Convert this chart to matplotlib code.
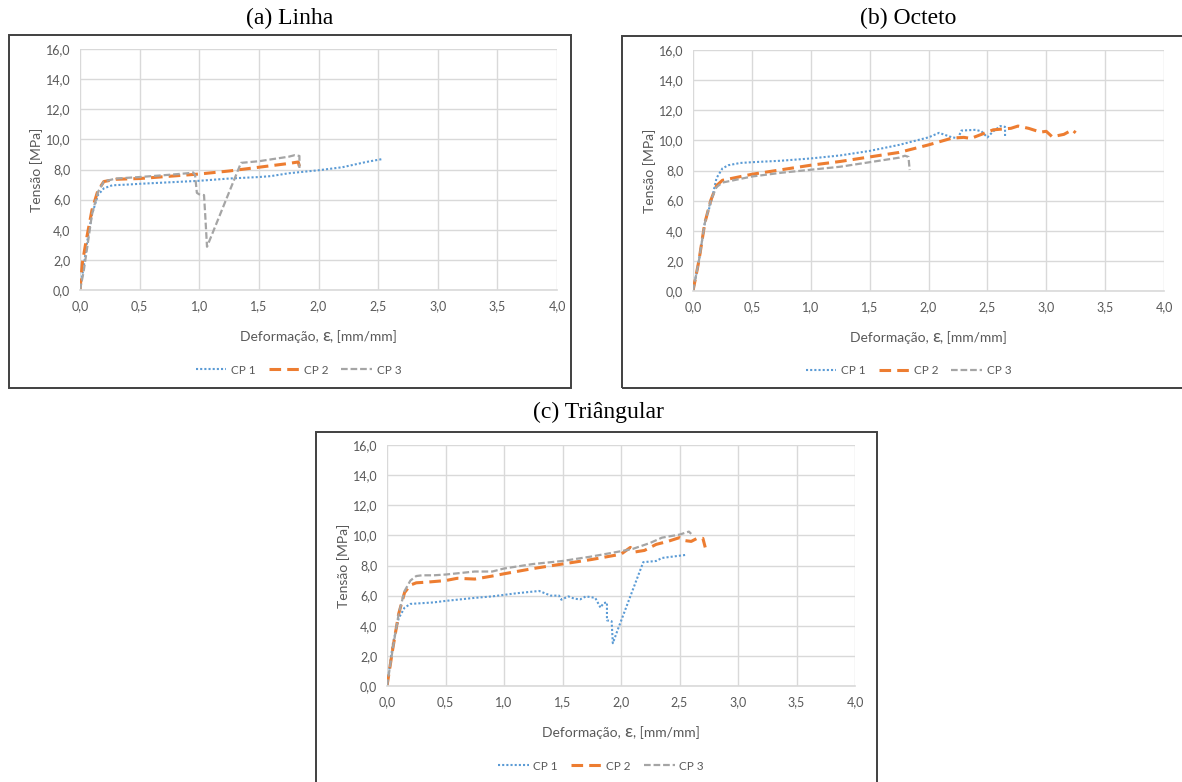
"""Curvas tensao x deformacao dos tres tipos de preenchimento (Linha, Octeto, Triangular)."""

import matplotlib
matplotlib.use('Agg')
import matplotlib.pyplot as plt
from matplotlib.patches import Rectangle
from matplotlib.ticker import FuncFormatter, MultipleLocator
from matplotlib.offsetbox import AnchoredOffsetbox, HPacker, TextArea

# (a) Linha
a_cp1_x = [0.0, 0.03, 0.06, 0.1, 0.15, 0.2, 0.27, 0.4, 0.5, 0.75, 1.0, 1.25, 1.5, 1.6,
           1.75, 2.0, 2.2, 2.4, 2.54]
a_cp1_y = [0.0, 1.5, 3.2, 5.0, 6.3, 6.75, 6.95, 7.0, 7.05, 7.15, 7.25, 7.4, 7.5, 7.56,
           7.75, 7.95, 8.15, 8.5, 8.7]
a_cp2_x = [0.0, 0.02, 0.05, 0.1, 0.15, 0.2, 0.3, 0.5, 0.75, 1.0, 1.25, 1.5, 1.75, 1.83, 1.84]
a_cp2_y = [0.0, 1.8, 3.2, 5.3, 6.6, 7.2, 7.35, 7.4, 7.55, 7.7, 7.9, 8.15, 8.4, 8.5, 8.2]
a_cp3_x = [0.0, 0.03, 0.06, 0.1, 0.15, 0.2, 0.3, 0.5, 0.75, 0.9, 0.95, 0.965, 0.98, 1.0,
           1.04, 1.05, 1.065, 1.35, 1.5, 1.75, 1.8, 1.84, 1.84]
a_cp3_y = [0.0, 1.2, 2.8, 5.0, 6.5, 7.2, 7.4, 7.5, 7.65, 7.75, 7.8, 7.62, 6.45, 6.35,
           6.3, 5.0, 2.87, 8.44, 8.55, 8.85, 8.95, 8.9, 8.1]

# (b) Octeto
b_cp1_x = [0.0, 0.05, 0.1, 0.157, 0.2, 0.25, 0.3, 0.4, 0.5, 0.75, 1.0, 1.25, 1.5, 1.75,
           2.0, 2.09, 2.2, 2.25, 2.28, 2.4, 2.45, 2.5, 2.55, 2.61, 2.65, 2.65]
b_cp1_y = [0.0, 2.0, 4.5, 6.0, 7.5, 8.14, 8.35, 8.5, 8.55, 8.65, 8.8, 9.0, 9.3, 9.7,
           10.2, 10.5, 10.2, 10.15, 10.65, 10.7, 10.6, 10.2, 10.6, 10.95, 10.9, 10.2]
b_cp2_x = [0.0, 0.05, 0.1, 0.15, 0.2, 0.25, 0.5, 0.75, 1.0, 1.25, 1.5, 1.75, 2.0, 2.2,
           2.3, 2.36, 2.45, 2.55, 2.7, 2.76, 2.85, 2.95, 3.0, 3.05, 3.15, 3.22, 3.25]
b_cp2_y = [0.0, 2.0, 4.5, 6.0, 7.0, 7.35, 7.75, 8.05, 8.35, 8.6, 8.9, 9.2, 9.7, 10.15,
           10.2, 10.13, 10.4, 10.7, 10.8, 10.95, 10.8, 10.55, 10.6, 10.24, 10.4, 10.7, 10.5]
b_cp3_x = [0.0, 0.05, 0.1, 0.15, 0.2, 0.25, 0.5, 0.75, 1.0, 1.25, 1.5, 1.75, 1.8, 1.83, 1.84]
b_cp3_y = [0.0, 2.0, 4.5, 6.0, 6.9, 7.2, 7.6, 7.85, 8.05, 8.25, 8.55, 8.85, 8.98, 8.9, 8.03]

# (c) Triangular
c_cp1_x = [0.0, 0.05, 0.1, 0.15, 0.2, 0.3, 0.4, 0.5, 0.75, 0.9, 1.0, 1.1, 1.3, 1.4, 1.47,
           1.49, 1.55, 1.6, 1.65, 1.7, 1.78, 1.825, 1.85, 1.88, 1.88, 1.92, 1.93, 1.98,
           2.19, 2.3, 2.35, 2.5, 2.55]
c_cp1_y = [0.0, 2.8, 4.5, 5.2, 5.45, 5.5, 5.55, 5.65, 5.85, 5.95, 6.05, 6.15, 6.31, 6.0,
           6.0, 5.73, 5.95, 5.8, 5.75, 5.95, 5.85, 5.2, 5.5, 5.55, 4.36, 4.3, 2.84, 3.9,
           8.22, 8.3, 8.5, 8.65, 8.7]
c_cp2_x = [0.0, 0.05, 0.1, 0.15, 0.2, 0.25, 0.35, 0.5, 0.6, 0.75, 0.9, 1.0, 1.25, 1.5,
           1.75, 2.0, 2.08, 2.12, 2.2, 2.3, 2.4, 2.5, 2.55, 2.6, 2.65, 2.7, 2.72]
c_cp2_y = [0.0, 2.5, 4.8, 6.2, 6.7, 6.85, 6.9, 7.0, 7.15, 7.1, 7.3, 7.45, 7.8, 8.1,
           8.4, 8.75, 9.2, 8.9, 9.0, 9.4, 9.6, 9.85, 9.65, 9.6, 9.8, 9.8, 9.2]
c_cp3_x = [0.0, 0.05, 0.1, 0.15, 0.2, 0.25, 0.3, 0.4, 0.5, 0.75, 0.9, 1.0, 1.25, 1.5,
           1.75, 2.0, 2.1, 2.25, 2.35, 2.5, 2.58, 2.6]
c_cp3_y = [0.0, 2.5, 4.8, 6.3, 7.0, 7.3, 7.35, 7.35, 7.4, 7.6, 7.6, 7.8, 8.1, 8.3,
           8.6, 8.95, 9.1, 9.5, 9.85, 10.05, 10.25, 10.1]

titles = ['(a) Linha', '(b) Octeto', '(c) Triângular']
series_labels = ['CP 1', 'CP 2', 'CP 3']
panels = [
    [(a_cp1_x, a_cp1_y), (a_cp2_x, a_cp2_y), (a_cp3_x, a_cp3_y)],
    [(b_cp1_x, b_cp1_y), (b_cp2_x, b_cp2_y), (b_cp3_x, b_cp3_y)],
    [(c_cp1_x, c_cp1_y), (c_cp2_x, c_cp2_y), (c_cp3_x, c_cp3_y)],
]

W, H = 1182, 782
# pixel layout: (plot left, plot top, plot right, plot bottom), (box l, t, r, b), title xy
layout = [
    ((80, 49, 557, 290), (9, 35, 571, 388), (290, 18)),
    ((693, 50, 1164, 291), (622, 36, 1190, 388), (908, 18)),
    ((387, 445, 855, 686), (316, 432, 877, 800), (598, 412)),
]

styles = [
    dict(color='#5B9BD5', lw=1.5, linestyle=(0, (1, 1))),
    dict(color='#ED7D31', lw=2.2, linestyle=(0, (3.8, 2.0))),
    dict(color='#A5A5A5', lw=1.6, linestyle=(0, (3, 1.3))),
]

GRID = '#D9D9D9'
TXT = '#595959'
SANS = ['Lato', 'DejaVu Sans']

fig = plt.figure(figsize=(W / 100, H / 100), dpi=100)
fig.patch.set_facecolor('white')

comma = FuncFormatter(lambda v, p: ('%.1f' % v).replace('.', ','))

for (plot_px, box_px, title_px), title, data in zip(layout, titles, panels):
    l, t, r, b = box_px
    fig.add_artist(Rectangle((l / W, 1 - b / H), (r - l) / W, (b - t) / H,
                             transform=fig.transFigure, fill=False,
                             edgecolor='#404040', lw=1.4))
    fig.text(title_px[0] / W, 1 - title_px[1] / H, title, ha='center', va='center',
             family='Liberation Serif', fontsize=17, color='black')

    pl, pt, pr, pb = plot_px
    ax = fig.add_axes([pl / W, 1 - pb / H, (pr - pl) / W, (pb - pt) / H])
    for (x, y), lab, st in zip(data, series_labels, styles):
        ax.plot(x, y, label=lab, **st)

    ax.set_xlim(0, 4)
    ax.set_ylim(0, 16)
    ax.xaxis.set_major_locator(MultipleLocator(0.5))
    ax.yaxis.set_major_locator(MultipleLocator(2))
    ax.xaxis.set_major_formatter(comma)
    ax.yaxis.set_major_formatter(comma)
    ax.grid(True, color=GRID, lw=1.0)
    ax.set_axisbelow(True)
    for side in ['top', 'right', 'left']:
        ax.spines[side].set_visible(False)
    ax.spines['bottom'].set_color(GRID)
    ax.spines['bottom'].set_linewidth(1.2)
    ax.tick_params(length=0, labelsize=9, labelcolor=TXT, pad=7)
    for lbl in ax.get_xticklabels() + ax.get_yticklabels():
        lbl.set_family(SANS)

    hpx = pb - pt
    wpx = pr - pl
    # x label with a larger epsilon, as in the original
    parts = [TextArea('Deformação, ', textprops=dict(color=TXT, size=10, family=SANS)),
             TextArea('ε', textprops=dict(color=TXT, size=13, family=SANS)),
             TextArea(', [mm/mm]', textprops=dict(color=TXT, size=10, family=SANS))]
    xlab = AnchoredOffsetbox(loc='center', child=HPacker(children=parts, align='baseline',
                                                         pad=0, sep=0),
                             bbox_to_anchor=(0.5, -46 / hpx), bbox_transform=ax.transAxes,
                             frameon=False, pad=0, borderpad=0)
    ax.add_artist(xlab)
    ax.set_ylabel('Tensão [MPa]', fontsize=10, color=TXT, family=SANS)
    ax.yaxis.set_label_coords(-43 / wpx, 0.5)
    ax.yaxis.label.set_va('center')

    leg = ax.legend(loc='center', bbox_to_anchor=(0.5 - 20 / wpx, -80 / hpx), ncol=3,
                    frameon=False, handlelength=2.6, columnspacing=1.1,
                    handletextpad=0.4, prop={'family': SANS, 'size': 8.5})
    for txt in leg.get_texts():
        txt.set_color(TXT)

plt.savefig('out.png', dpi=100)
